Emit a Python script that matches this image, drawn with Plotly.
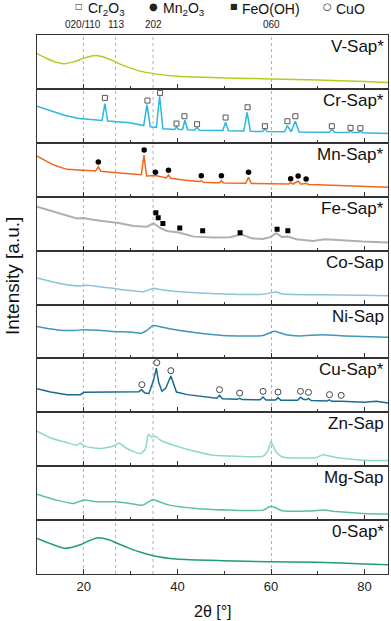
import plotly.graph_objects as go
from plotly.subplots import make_subplots

# ---------------- data (2θ in degrees, intensity in a.u. per panel) ----------------
samples = ["V-Sap*", "Cr-Sap*", "Mn-Sap*", "Fe-Sap*", "Co-Sap",
           "Ni-Sap", "Cu-Sap*", "Zn-Sap", "Mg-Sap", "0-Sap*"]
colors = ["#b7cb1c", "#2cb6e2", "#f2661c", "#aeb0b0", "#8cc3d8",
          "#3e96b9", "#1b6b90", "#8fd7c7", "#5dc0a4", "#1f9b7d"]

v_x = [10, 12, 14, 15.8, 18, 20, 22, 24, 26, 28, 30, 32, 35, 40, 50, 60, 70, 80, 85]
v_y = [35.3, 30.8, 26.8, 25.3, 27.3, 30.8, 33.3, 32.3, 28.8, 24.3, 20.8, 17.8, 15.3, 12.6, 11, 10, 9, 7.3, 6.3]

cr_x = [10, 13, 16, 19, 22, 23.9, 24.5, 25.1, 29.8, 32.8, 33.5, 34.2, 35.5, 36.2, 36.9,
        39.4, 39.8, 40.3, 41.1, 41.6, 42.2, 43.7, 44.2, 44.7, 49.7, 50.3, 50.9, 54.2, 54.9,
        55.6, 58.2, 58.7, 59.2, 62.9, 63.5, 64.3, 65.2, 66.0, 72.4, 73.0, 73.6, 76.6, 77.0,
        77.4, 78.7, 79.1, 79.5, 85]
cr_y = [36.6, 32.3, 27.3, 24.3, 23, 22.3, 39.3, 21.8, 20, 17.3, 38.3, 16, 15.3, 46.6, 14,
        13.3, 15.8, 13.3, 13.3, 22.6, 13.1, 12.8, 15.3, 12.6, 12.3, 20.6, 12, 11.8, 30.6,
        11.5, 11.3, 14, 11.3, 11, 17.3, 11, 21.6, 10.8, 10.6, 13.3, 10.6, 10.3, 12,
        10.3, 10.3, 11.6, 10.1, 9.3]

mn_x = [10, 13.6, 16.4, 20, 22.5, 23.1, 23.6, 27.1, 30.7, 32.3, 32.86, 33.4, 35.3, 37.6,
        38.1, 38.6, 41.3, 44.6, 45.1, 45.6, 47.7, 49.0, 49.4, 49.9, 54.6, 55.2, 55.8, 60,
        63.8, 64.2, 64.7, 65.8, 66.4, 67.5, 68.0, 70, 80, 85]
mn_y = [40.7, 31.7, 27.4, 26, 25.7, 30, 25.4, 24, 22.7, 22, 41.7, 20.7, 21.2, 18.7,
        21.7, 18.4, 16.7, 15.2, 16, 14.4, 14, 13.9, 16, 13.7, 13.4, 19.4, 13.2, 12.7,
        12.7, 14, 12.7, 15.7, 12.5, 13.4, 12.2, 12, 10.7, 9.4]

fe_x = [10, 13.6, 16.4, 18.5, 20, 21, 23.5, 27.1, 30.7, 33.5, 34.9, 36.4, 37.8, 40.3,
        43.5, 47.7, 51.2, 53.6, 56, 58.3, 60, 61.1, 62.3, 63.6, 65.4, 69, 71.5, 76, 79.6, 85]
fe_y = [44, 39, 34.7, 32.2, 32.7, 31.7, 30, 28, 24.7, 24, 27.4, 22.4, 19.7, 18.2,
        14, 13.2, 13.4, 16.2, 12.2, 11.7, 13.7, 17.4, 13.7, 14, 11.4, 9.7, 11.4, 9.7, 9, 8]

co_x = [10, 13, 16, 19, 20.8, 23, 26.2, 30, 32.8, 34.9, 36, 38.3, 44, 49.7, 58.3,
        61.1, 62.5, 69.7, 79.6, 85]
co_y = [26.5, 23, 20, 18.5, 19.2, 18, 16.2, 14, 12.8, 16.2, 15.3, 13.8, 11.8, 10.5, 10.2,
        12.5, 10.5, 9.8, 9.2, 8.8]

ni_x = [10, 13, 15.6, 18, 20, 23, 26.2, 30, 32.3, 33.5, 34.8, 36.5, 38.3, 44, 49.7,
        58.3, 60.7, 63.2, 66, 71, 76, 79.6, 85]
ni_y = [32, 29.5, 28, 28, 28.7, 28.2, 27, 26.5, 25.3, 28, 33, 31.5, 29.7, 25.7, 23,
        23, 27.3, 23.7, 22.5, 23.7, 22.5, 22, 21.3]

cu_x = [10, 12.9, 16.4, 19.3, 20, 23.5, 27.1, 30.7, 31.8, 32.3, 33.0, 33.9, 34.9, 35.5,
        36.0, 36.7, 37.5, 38.6, 39.2, 39.8, 42.1, 46.9, 48.4, 49.0, 49.6, 52.8, 53.3,
        53.8, 57.7, 58.3, 58.9, 61.0, 61.5, 62.1, 65.7, 66.3, 66.9, 67.5, 68.0, 68.6,
        72.0, 72.5, 73.0, 75, 78, 80, 82.5, 85]
cu_y = [23.7, 20.3, 17.7, 17.7, 20, 20.3, 20.3, 21, 20.7, 22.7, 19.5, 18.7, 32, 44.3,
        30, 21, 24, 36.3, 27, 20.3, 17.7, 15.3, 14, 17, 13.5, 13, 14,
        12.7, 12.5, 15.3, 12.3, 12.2, 14.7, 12, 12, 15, 13, 12.5, 14, 11.7,
        11.3, 12.5, 11, 11, 10.5, 10, 11, 9.3]

zn_x = [10, 12.9, 16.4, 18.5, 19.3, 20.0, 23.5, 26.4, 27.5, 29.2, 32.1, 33.2, 33.8,
        34.6, 35.3, 36.4, 39.2, 43.5, 47.7, 52.6, 58.3, 59.3, 60.0, 61.1, 62.5, 69.7,
        71.0, 73.9, 79.6, 85]
zn_y = [35, 28.3, 23.7, 21, 23.3, 20.3, 17.7, 20.3, 23.3, 17.7, 12.7, 17.7, 31.7,
        29.3, 30, 26, 21, 15.3, 11, 10, 10, 15, 24.3, 14.3, 9.3, 8.7,
        11.5, 8.7, 6, 5.7]

mg_x = [10, 12, 14.2, 17.7, 19.9, 22.7, 27, 29.8, 32.6, 34.8, 36.3, 38.3, 44, 51.2,
        58.3, 60, 62.5, 68, 71, 74, 79.6, 85]
mg_y = [26, 23, 20, 16.7, 20, 18.5, 18.3, 16.7, 15, 20.7, 18, 15, 11.7, 10,
        10, 14, 9.3, 9, 10, 8.5, 6.7, 6]

o_x = [10, 12.7, 15.9, 19.1, 21, 23.0, 25.5, 27.5, 29.8, 32, 34.8, 39.8, 49.7, 59.7, 69.7, 80, 85]
o_y = [35.7, 30.7, 25.7, 29, 33, 36.3, 34, 30, 25.7, 22, 18.3, 15, 13.3, 12.3, 11.7, 10, 9.3]

series_x = [v_x, cr_x, mn_x, fe_x, co_x, ni_x, cu_x, zn_x, mg_x, o_x]
series_y = [v_y, cr_y, mn_y, fe_y, co_y, ni_y, cu_y, zn_y, mg_y, o_y]

# phase reflections (2θ, a.u.)
cr2o3_x = [24.5, 33.6, 36.3, 39.8, 41.5, 44.2, 50.3, 55.0, 58.7, 63.5, 65.2, 73.0, 77.0, 79.1]
cr2o3_y = [45, 42.3, 50, 19.3, 26.6, 18.6, 25.3, 35.6, 16.6, 21.6, 26.6, 16.6, 15, 14.6]
mn2o3_x = [23.1, 32.9, 35.3, 38.1, 45.1, 49.4, 55.2, 64.2, 65.8, 67.5]
mn2o3_y = [34.7, 46.7, 24.4, 26.4, 21, 21, 24.4, 18, 20.7, 17.7]
feooh_x = [35.4, 35.9, 36.9, 40.5, 45.4, 53.4, 61.3, 63.6]
feooh_y = [38, 32.9, 27.2, 22.7, 19.9, 18, 21.4, 20]
cuo_x = [32.4, 35.6, 38.6, 49.0, 53.3, 58.3, 61.5, 66.3, 68.0, 72.5, 75.0]
cuo_y = [27.7, 49.7, 41.7, 22.7, 19.3, 21, 20.3, 21, 20, 17.7, 17]

ref_pos = [19.9, 26.8, 34.8, 60.1]
ref_labels = ["020/110", "113", "202", "060"]

x_ticks = [20, 40, 60, 80]
x_minor = [30, 50, 70]

# ---------------- figure ----------------
FONT = "Liberation Sans, Arial, sans-serif"
AX = "#333333"
n = len(samples)
fig = make_subplots(rows=n, cols=1, shared_xaxes=True, vertical_spacing=0)

smooth_rows = {0, 4, 5, 7, 8, 9}
for i in range(n):
    fig.add_trace(go.Scatter(
        x=series_x[i], y=series_y[i], mode="lines",
        line=dict(color=colors[i], width=2.0 if i == 3 else 1.5,
                  shape="spline" if i in smooth_rows else "linear",
                  smoothing=0.6 if i in smooth_rows else None),
        showlegend=False, hoverinfo="skip"), row=i + 1, col=1)

fig.add_trace(go.Scatter(x=cr2o3_x, y=cr2o3_y, mode="markers",
                         marker=dict(symbol="square-open", size=5, color="#555555",
                                     line=dict(width=1)), showlegend=False), row=2, col=1)
fig.add_trace(go.Scatter(x=mn2o3_x, y=mn2o3_y, mode="markers",
                         marker=dict(symbol="circle", size=5.5, color="#000000"),
                         showlegend=False), row=3, col=1)
fig.add_trace(go.Scatter(x=feooh_x, y=feooh_y, mode="markers",
                         marker=dict(symbol="square", size=5, color="#000000"),
                         showlegend=False), row=4, col=1)
fig.add_trace(go.Scatter(x=cuo_x, y=cuo_y, mode="markers",
                         marker=dict(symbol="circle-open", size=6, color="#444444",
                                     line=dict(width=1)), showlegend=False), row=7, col=1)

for i in range(n):
    fig.update_xaxes(range=[10, 85], showline=True, mirror=True, linecolor=AX, linewidth=1,
                     ticks="inside", ticklen=5, tickwidth=1, tickcolor=AX,
                     tickvals=x_ticks, showgrid=False, zeroline=False,
                     minor=dict(ticks="inside", ticklen=3, tickwidth=1, tickcolor=AX,
                                tickvals=x_minor),
                     tickfont=dict(family=FONT, size=13, color="#222222"),
                     row=i + 1, col=1)
    fig.update_yaxes(range=[0, 54], showline=True, mirror=True, linecolor=AX, linewidth=1,
                     ticks="", showticklabels=False, showgrid=False, zeroline=False,
                     row=i + 1, col=1)
    sfx = "" if i == 0 else str(i + 1)
    fig.add_annotation(text=samples[i], xref=f"x{sfx} domain", yref=f"y{sfx} domain",
                       x=1, y=1, xanchor="right", yanchor="top", xshift=-2, yshift=0,
                       showarrow=False, font=dict(family=FONT, size=17, color="#111111"))

for xp, lab in zip(ref_pos, ref_labels):
    fig.add_shape(type="line", xref="x", yref="paper", x0=xp, x1=xp, y0=0, y1=1,
                  line=dict(color="#b0b0b0", width=1, dash="dot"), layer="below")
    fig.add_annotation(text=lab, xref="x", yref="paper", x=xp, y=1, yshift=3,
                       xanchor="center", yanchor="bottom", showarrow=False,
                       font=dict(family=FONT, size=10, color="#222222"))

L, R, T, B, W, H = 37, 3, 35, 47, 391, 621
pw, ph = W - L - R, H - T - B


def px(xpix):
    return (xpix - L) / pw


def py(ypix):
    return (H - B - ypix) / ph


# phase legend along the top
legend_items = [("□", 8, 79.3, "Cr<sub>2</sub>O<sub>3</sub>", 86),
                ("●", 10, 153.3, "Mn<sub>2</sub>O<sub>3</sub>", 161),
                ("■", 8, 234, "FeO(OH)", 240),
                ("○", 10, 327.5, "CuO", 334)]
for glyph, gsize, gx, label, tx in legend_items:
    fig.add_annotation(text=glyph, xref="paper", yref="paper", x=px(gx), y=py(7),
                       xanchor="center", yanchor="middle", showarrow=False,
                       font=dict(family="DejaVu Sans", size=gsize, color="#222222"))
    fig.add_annotation(text=label, xref="paper", yref="paper", x=px(tx), y=py(9),
                       xanchor="left", yanchor="middle", showarrow=False,
                       font=dict(family=FONT, size=14, color="#111111"))

fig.add_annotation(text="Intensity [a.u.]", xref="paper", yref="paper", x=px(12), y=py(276),
                   xanchor="center", yanchor="middle", textangle=-90, showarrow=False,
                   font=dict(family=FONT, size=19, color="#111111"))
fig.add_annotation(text="2θ [°]", xref="paper", yref="paper", x=0.5, y=py(611),
                   xanchor="center", yanchor="middle", showarrow=False,
                   font=dict(family=FONT, size=16, color="#111111"))

fig.update_layout(width=W, height=H, margin=dict(l=L, r=R, t=T, b=B),
                  paper_bgcolor="white", plot_bgcolor="white", showlegend=False)

fig.write_html("out.html", config={"displayModeBar": False},
               post_script="document.body.style.margin='0';document.body.style.overflow='hidden';")
